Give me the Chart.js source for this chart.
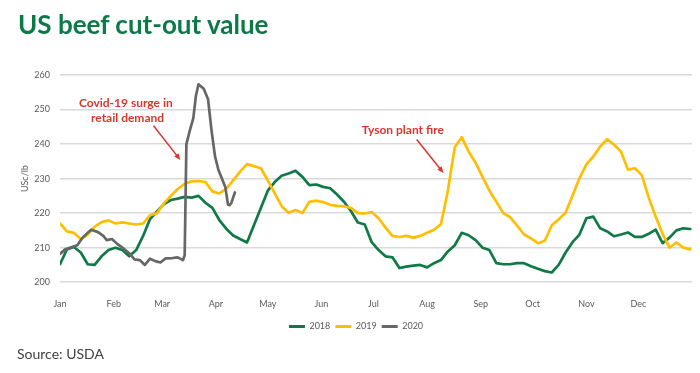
<!DOCTYPE html>
<html>
<head>
<meta charset="utf-8">
<script src="https://cdn.jsdelivr.net/npm/chart.js@4.4.0/dist/chart.umd.min.js"></script>
<style>
  html, body { margin: 0; padding: 0; background: #fff; }
  #wrap { position: relative; width: 700px; height: 373px; font-family: Lato, 'Open Sans', sans-serif; overflow: hidden; }
  #beefChart { position: absolute; left: 0; top: 0; }
  #title { position: absolute; left: 18px; top: 8px; font-size: 26px; font-weight: 700; color: #0b7a48; white-space: nowrap; }
  #source { position: absolute; left: 17px; top: 345px; font-size: 14px; color: #404040; white-space: nowrap; }
</style>
</head>
<body>
<div id="wrap">
  <canvas id="beefChart" width="700" height="373"></canvas>
  <div id="title">US beef cut-out value</div>
  <div id="source">Source: USDA</div>
</div>
<script>
// Axis labels
const monthLabels = ['Jan', 'Feb', 'Mar', 'Apr', 'May', 'Jun', 'Jul', 'Aug', 'Sep', 'Oct', 'Nov', 'Dec'];
const monthStartDays = [0, 31, 59, 90, 120, 151, 181, 212, 243, 273, 304, 334];
const yTicks = [200, 210, 220, 230, 240, 250, 260];
const seriesNames = ['2018', '2019', '2020'];

// Day of year for 2018 / 2019 readings
const days = [0, 4, 8, 12, 16, 20, 24, 28, 32, 36, 40, 44, 48, 52, 56, 60, 64, 68, 72, 76,
  80, 84, 88, 92, 96, 100, 104, 108, 112, 116, 120, 124, 128, 132, 136, 140, 144, 148, 152, 156,
  160, 164, 168, 172, 176, 180, 184, 188, 192, 196, 200, 204, 208, 212, 216, 220, 224, 228, 232, 236,
  240, 244, 248, 252, 256, 260, 264, 268, 272, 276, 280, 284, 288, 292, 296, 300, 304, 308, 312, 316,
  320, 324, 328, 332, 336, 340, 344, 348, 352, 356, 360, 364];

// USc/lb
const values2018 = [205.2, 209.5, 210.2, 208.6, 205.2, 205.0, 207.5, 209.3, 210.0, 209.3, 207.5, 209.3, 213.4, 218.3, 220.5, 222.6, 223.8, 224.2, 224.7, 224.5,
  225.0, 223.0, 221.5, 218.0, 215.5, 213.5, 212.5, 211.5, 216.5, 221.5, 226.5, 229.0, 230.8, 231.5, 232.3, 230.5, 228.1, 228.3, 227.6, 227.2,
  225.4, 223.3, 220.6, 217.3, 216.7, 211.6, 209.3, 207.5, 207.2, 204.1, 204.5, 204.8, 205.0, 204.3, 205.5, 206.4, 208.9, 210.7, 214.3, 213.6,
  212.2, 210.0, 209.3, 205.5, 205.2, 205.2, 205.5, 205.5, 204.6, 203.9, 203.2, 202.8, 205.0, 208.6, 211.6, 213.8, 218.5, 219.0, 215.6, 214.7,
  213.3, 213.8, 214.4, 213.1, 213.1, 214.0, 215.2, 211.3, 212.9, 215.0, 215.6, 215.4];

const values2019 = [217.0, 214.7, 214.3, 212.5, 213.8, 216.1, 217.4, 217.9, 217.0, 217.3, 217.0, 216.7, 217.0, 219.4, 220.0, 222.8, 225.0, 227.0, 228.5, 229.2,
  229.3, 229.0, 226.3, 225.7, 227.0, 229.5, 232.0, 234.2, 233.6, 233.0, 229.5, 225.7, 222.0, 220.1, 220.9, 220.0, 223.3, 223.6, 223.2, 222.4,
  222.1, 222.0, 221.5, 220.0, 219.9, 220.3, 218.5, 215.8, 213.4, 213.1, 213.4, 212.9, 213.4, 214.3, 215.2, 216.8, 226.5, 239.1, 242.0, 237.8,
  234.6, 230.5, 226.5, 223.3, 220.0, 218.8, 216.4, 213.8, 212.7, 211.3, 212.0, 216.5, 218.2, 220.1, 225.1, 230.1, 234.1, 236.4, 239.3, 241.4,
  239.8, 237.8, 232.6, 233.0, 231.0, 224.5, 219.0, 214.0, 210.0, 211.5, 210.0, 209.5];

// 2020 runs only to mid-April
const days2020 = [0, 3, 7, 10, 13, 16, 18, 22, 25, 27, 30, 33, 36, 40, 43, 46, 49, 52, 55, 58,
  61, 65, 68, 71, 72, 73, 75, 77, 78.5, 80, 83, 85.5, 87.5, 89.5, 91.5, 93.5, 95.5, 97, 98, 99, 101];
const values2020 = [208.2, 209.5, 210.2, 210.7, 212.9, 214.3, 215.2, 214.5, 213.4, 212.2, 212.5, 211.1, 210.0, 208.4, 206.6, 206.4, 205.0, 206.8, 206.1, 205.7,
  206.9, 207.0, 207.2, 206.4, 207.7, 240.0, 244.0, 247.5, 254.0, 257.3, 256.0, 253.0, 244.0, 236.5, 232.5, 230.0, 227.5, 222.5, 222.3, 223.0, 226.0];

const GREEN = '#107a47';
const GOLD = '#ffbf00';
const GREY = '#676767';
const RED = '#d9362e';
const AXIS_TEXT = '#595959';

// Callout texts and arrows, placed in data units
const notes = [
  { text: 'Covid-19 surge in', day: 38, value: 251.9 },
  { text: 'retail demand', day: 39, value: 247.4 },
  { text: 'Tyson plant fire', day: 198, value: 244.0 }
];
const arrows = [
  { from: [54, 245.3], to: [69.5, 235.4] },
  { from: [206, 241.3], to: [221.5, 231.6] }
];

function toPoints(xs, ys) {
  return xs.map((x, i) => ({ x: x, y: ys[i] }));
}

const calloutPlugin = {
  id: 'callouts',
  afterDatasetsDraw(chart) {
    const ctx = chart.ctx;
    const xs = chart.scales.x;
    const ys = chart.scales.y;
    ctx.save();
    ctx.fillStyle = RED;
    ctx.strokeStyle = RED;
    ctx.font = 'bold 12px Lato';
    ctx.textAlign = 'center';
    ctx.textBaseline = 'middle';
    notes.forEach(n => {
      ctx.fillText(n.text, xs.getPixelForValue(n.day), ys.getPixelForValue(n.value));
    });
    ctx.lineWidth = 1.5;
    arrows.forEach(a => {
      const x1 = xs.getPixelForValue(a.from[0]);
      const y1 = ys.getPixelForValue(a.from[1]);
      const x2 = xs.getPixelForValue(a.to[0]);
      const y2 = ys.getPixelForValue(a.to[1]);
      const ang = Math.atan2(y2 - y1, x2 - x1);
      const head = 7;
      ctx.beginPath();
      ctx.moveTo(x1, y1);
      ctx.lineTo(x2 - Math.cos(ang) * head * 0.6, y2 - Math.sin(ang) * head * 0.6);
      ctx.stroke();
      ctx.beginPath();
      ctx.moveTo(x2, y2);
      ctx.lineTo(x2 - head * Math.cos(ang - 0.4), y2 - head * Math.sin(ang - 0.4));
      ctx.lineTo(x2 - head * Math.cos(ang + 0.4), y2 - head * Math.sin(ang + 0.4));
      ctx.closePath();
      ctx.fill();
    });
    ctx.restore();
  }
};

Chart.defaults.font.family = 'Lato';

new Chart(document.getElementById('beefChart'), {
  type: 'line',
  data: {
    datasets: [
      { label: seriesNames[0], data: toPoints(days, values2018), borderColor: GREEN, backgroundColor: GREEN, order: 2 },
      { label: seriesNames[1], data: toPoints(days, values2019), borderColor: GOLD, backgroundColor: GOLD, order: 1 },
      { label: seriesNames[2], data: toPoints(days2020, values2020), borderColor: GREY, backgroundColor: GREY, order: 0 }
    ]
  },
  options: {
    responsive: false,
    animation: false,
    layout: { padding: { left: 20, right: 8, top: 75, bottom: 32 } },
    elements: {
      line: { borderWidth: 2.7, tension: 0, borderJoinStyle: 'round', borderCapStyle: 'round' },
      point: { radius: 0 }
    },
    scales: {
      x: {
        type: 'linear',
        min: 0,
        max: 365,
        afterBuildTicks: scale => { scale.ticks = monthStartDays.map(v => ({ value: v })); },
        ticks: {
          autoSkip: false,
          maxRotation: 0,
          padding: 8,
          color: AXIS_TEXT,
          font: { size: 9 },
          callback: value => monthLabels[monthStartDays.indexOf(value)]
        },
        grid: { display: false },
        border: { display: false }
      },
      y: {
        min: 200,
        max: 260,
        afterBuildTicks: scale => { scale.ticks = yTicks.map(v => ({ value: v })); },
        afterFit: scale => { scale.width = 40; },
        ticks: { color: AXIS_TEXT, font: { size: 9 }, padding: 10 },
        grid: { color: '#d9d9d9', lineWidth: 1.5, drawTicks: false },
        border: { display: false },
        title: { display: true, text: 'USc/lb', color: AXIS_TEXT, font: { size: 9 }, padding: 0 }
      }
    },
    plugins: {
      legend: {
        position: 'bottom',
        labels: {
          boxWidth: 16,
          boxHeight: 3,
          padding: 5,
          color: AXIS_TEXT,
          font: { size: 9 },
          sort: (a, b) => a.datasetIndex - b.datasetIndex,
          generateLabels: chart => Chart.defaults.plugins.legend.labels.generateLabels(chart).map(item => {
            item.lineWidth = 0;
            item.fillStyle = item.strokeStyle;
            return item;
          })
        }
      },
      tooltip: { enabled: false }
    }
  },
  plugins: [calloutPlugin]
});
</script>
</body>
</html>
